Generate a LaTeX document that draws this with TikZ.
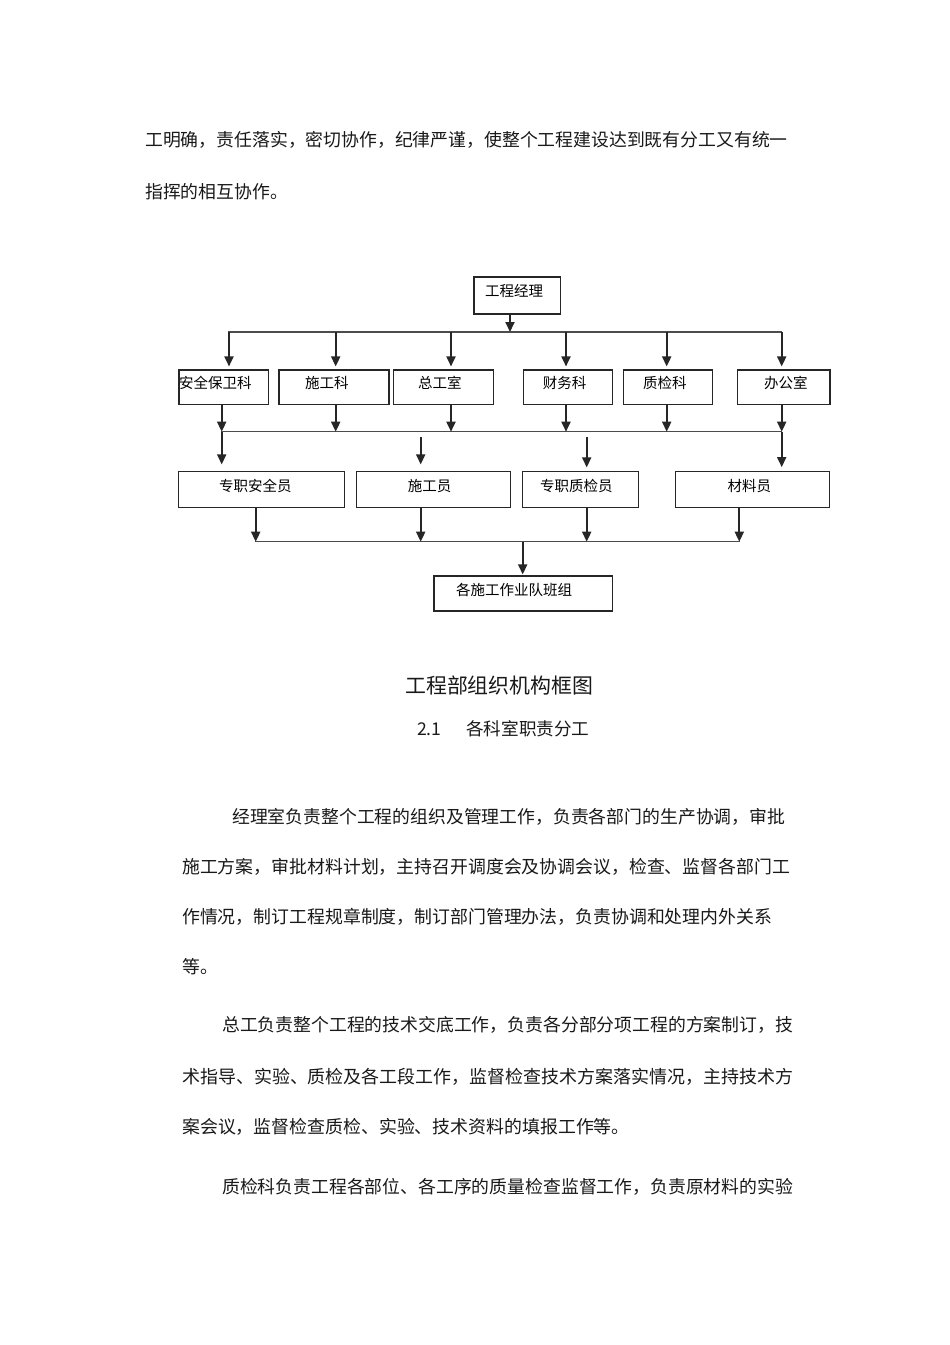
\documentclass[tikz,border=0pt]{standalone}
\usepackage{fontspec}
\newfontfamily\cjk{Noto Sans CJK SC}
\usetikzlibrary{arrows.meta}
\newcommand\fsz[1]{\fontsize{#1}{#1}\selectfont\cjk}
\begin{document}
\begin{tikzpicture}[x=1pt,y=-1pt,
  box/.style={draw=black!85, line width=1.2pt, inner sep=0pt},
  lbl/.style={anchor=base west, inner sep=0pt, font=\fsz{14.5}, text=black},
  txt/.style={anchor=base west, inner sep=0pt, text=black!90},
  arr/.style={draw=black!85, line width=1.8pt, -{Triangle[width=9pt,length=10pt]}},
  bus/.style={draw=black!70, line width=1.5pt, line cap=rect}]
\useasboundingbox[fill=white] (0,0) rectangle (950,1345);

% ---- text above ----
\node[txt, font=\fsz{17.85}] (i1) at (145,146.8) {工明确，责任落实，密切协作，纪律严谨，使整个工程建设达到既有分工又有统一};
\node[txt, font=\fsz{17.85}] (i2) at (145,198.8) {指挥的相互协作。};

% ---- boxes ----
\node[box, minimum width=86.7pt, minimum height=37pt] (gcjl) at (517.3,295.5) {};
\node[lbl] (gcjl-t) at (485,296.2) {工程经理};

\node[box, minimum width=89.3pt, minimum height=34.3pt] (aqbwk) at (223.7,387.2) {};
\node[box, minimum width=110pt, minimum height=34.3pt] (sgk) at (334,387.2) {};
\node[box, minimum width=100pt, minimum height=34.3pt] (zgs) at (443.3,387.2) {};
\node[box, minimum width=89pt, minimum height=34.3pt] (cwk) at (567.8,387.2) {};
\node[box, minimum width=89pt, minimum height=34.3pt] (zjk) at (667.8,387.2) {};
\node[box, minimum width=92.3pt, minimum height=34.3pt] (bgs) at (783.9,387.2) {};
\node[lbl] (aqbwk-t) at (179,388.2) {安全保卫科};
\node[lbl] (sgk-t) at (305,388.2) {施工科};
\node[lbl] (zgs-t) at (418,388.2) {总工室};
\node[lbl] (cwk-t) at (542.7,388.2) {财务科};
\node[lbl] (zjk-t) at (643,388.2) {质检科};
\node[lbl] (bgs-t) at (764,388.2) {办公室};

\node[box, minimum width=166pt, minimum height=36pt] (zzaqy) at (261.3,489.7) {};
\node[box, minimum width=154pt, minimum height=36pt] (sgy) at (433.7,489.7) {};
\node[box, minimum width=115.6pt, minimum height=36pt] (zzzjy) at (580.5,489.7) {};
\node[box, minimum width=153.6pt, minimum height=36pt] (cly) at (752.5,489.7) {};
\node[lbl] (zzaqy-t) at (219,491.2) {专职安全员};
\node[lbl] (sgy-t) at (407.7,491.2) {施工员};
\node[lbl] (zzzjy-t) at (540,491.2) {专职质检员};
\node[lbl] (cly-t) at (727.3,491.2) {材料员};

\node[box, minimum width=178.7pt, minimum height=35pt] (gsg) at (523.3,593.5) {};
\node[lbl] (gsg-t) at (456,595.5) {各施工作业队班组};

% ---- connectors level 1 ----
\coordinate (b1m) at (510,332);
\coordinate (a1) at (229,332);
\coordinate (a2) at (335.7,332);
\coordinate (a3) at (451,332);
\coordinate (a4) at (566,332);
\coordinate (a5) at (666.7,332);
\coordinate (a6) at (781.7,332);
\draw[bus] (a1) -- (a6);
\draw[arr] (gcjl.south -| b1m) -- (b1m);
\draw[arr, shorten >=3pt] (a1) -- (a1 |- aqbwk.north);
\draw[arr, shorten >=3pt] (a2) -- (a2 |- sgk.north);
\draw[arr, shorten >=3pt] (a3) -- (a3 |- zgs.north);
\draw[arr, shorten >=3pt] (a4) -- (a4 |- cwk.north);
\draw[arr, shorten >=3pt] (a5) -- (a5 |- zjk.north);
\draw[arr, shorten >=3pt] (a6) -- (a6 |- bgs.north);

% ---- connectors level 2 ----
\coordinate (c1) at (221.7,431.7);
\coordinate (c2) at (335.7,431.7);
\coordinate (c3) at (451,431.7);
\coordinate (c4) at (566,431.7);
\coordinate (c5) at (666.7,431.7);
\coordinate (c6) at (781.7,431.7);
\draw[bus] (c1) -- (c6);
\draw[arr] (aqbwk.south -| c1) -- (c1);
\draw[arr] (sgk.south -| c2) -- (c2);
\draw[arr] (zgs.south -| c3) -- (c3);
\draw[arr] (cwk.south -| c4) -- (c4);
\draw[arr] (zjk.south -| c5) -- (c5);
\draw[arr] (bgs.south -| c6) -- (c6);

\coordinate (d2) at (420.7,437.3);
\coordinate (d3) at (586.7,437);
\draw[arr, shorten >=6.7pt] (c1) -- (c1 |- zzaqy.north);
\draw[arr, shorten >=6.7pt] (d2) -- (d2 |- sgy.north);
\draw[arr, shorten >=3.7pt] (d3) -- (d3 |- zzzjy.north);
\draw[arr, shorten >=4pt] (c6) -- (c6 |- cly.north);

% ---- connectors level 3 ----
\coordinate (e1) at (255.7,541.7);
\coordinate (e2) at (420.7,541.7);
\coordinate (e3) at (586.7,541.7);
\coordinate (e4) at (739.3,541.7);
\coordinate (f) at (522.7,541.7);
\draw[bus] (e1) -- (e4);
\draw[arr] (zzaqy.south -| e1) -- (e1);
\draw[arr] (sgy.south -| e2) -- (e2);
\draw[arr] (zzzjy.south -| e3) -- (e3);
\draw[arr] (cly.south -| e4) -- (e4);
\draw[arr, shorten >=1pt] (f) -- (f |- gsg.north);

% ---- caption and text below ----
\node[txt, font=\fsz{20.9}] (title) at (405,693.9) {工程部组织机构框图};
\node[txt, font=\fsz{17.6}] (sec-n) at (417,735.7) {2.1};
\node[txt, font=\fsz{17.6}] (sec-t) at (466,735.7) {各科室职责分工};

\node[txt, font=\fsz{17.84}] (p1a) at (232,823.8) {经理室负责整个工程的组织及管理工作，负责各部门的生产协调，审批};
\node[txt, font=\fsz{17.88}] (p1b) at (182,873.8) {施工方案，审批材料计划，主持召开调度会及协调会议，检查、监督各部门工};
\node[txt, font=\fsz{17.88}] (p1c) at (182,923.8) {作情况，制订工程规章制度，制订部门管理办法，负责协调和处理内外关系};
\node[txt, font=\fsz{17.88}] (p1d) at (182,973.8) {等。};

\node[txt, font=\fsz{17.84}] (p2a) at (222,1031.8) {总工负责整个工程的技术交底工作，负责各分部分项工程的方案制订，技};
\node[txt, font=\fsz{17.97}] (p2b) at (182,1083.8) {术指导、实验、质检及各工段工作，监督检查技术方案落实情况，主持技术方};
\node[txt, font=\fsz{17.9}] (p2c) at (182,1133.8) {案会议，监督检查质检、实验、技术资料的填报工作等。};

\node[txt, font=\fsz{17.84}] (p3a) at (222,1193.8) {质检科负责工程各部位、各工序的质量检查监督工作，负责原材料的实验};
\end{tikzpicture}
\end{document}
